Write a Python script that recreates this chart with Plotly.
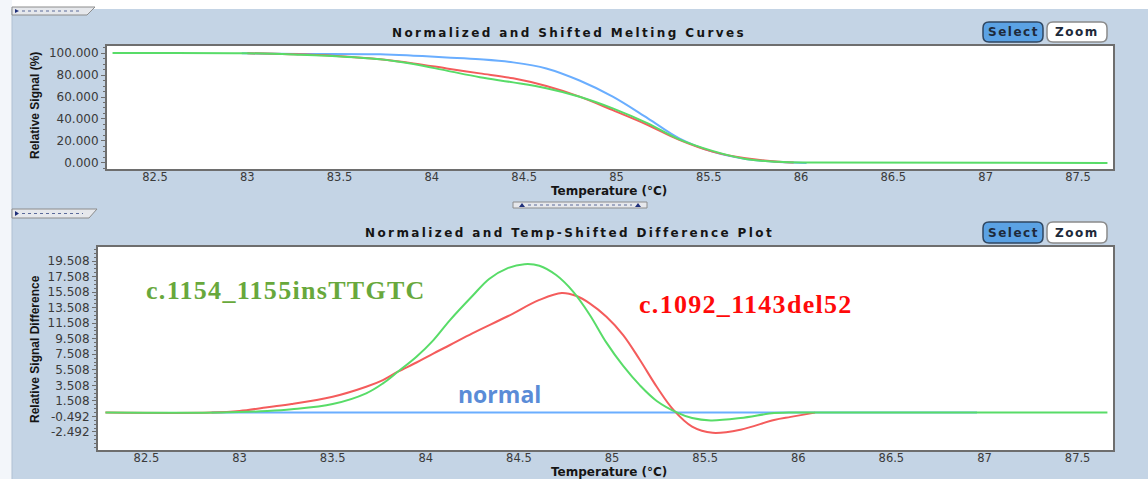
import plotly.graph_objects as go

# ---------------- data ----------------
# Top panel: normalized and shifted melting curves (Relative Signal %)
temp_green_melt = [82.27, 83.0, 83.29, 83.46, 83.72, 83.90, 84.08, 84.26, 84.44, 84.62, 84.80, 84.98, 85.17, 85.34, 85.52, 85.70, 85.88, 86.03, 87.66]
green_melt = [100, 99.8, 98.5, 97.4, 94.3, 90.0, 84.0, 78.0, 73.3, 68.0, 60.3, 49.7, 36.0, 21.5, 11.0, 3.6, 1.0, 0.3, 0.0]

temp_red_melt = [83.0, 83.23, 83.46, 83.72, 83.90, 84.08, 84.26, 84.44, 84.62, 84.80, 84.98, 85.17, 85.34, 85.52, 85.70, 85.88, 85.96]
red_melt = [99.8, 99.0, 97.6, 94.3, 90.6, 86.0, 81.5, 77.0, 70.0, 60.3, 48.0, 34.5, 21.0, 10.3, 4.2, 1.0, 0.3]

temp_blue_melt = [82.97, 83.29, 83.72, 83.90, 84.08, 84.26, 84.44, 84.62, 84.80, 84.98, 85.17, 85.34, 85.52, 85.70, 85.88, 86.03]
blue_melt = [99.8, 99.2, 98.8, 97.6, 96.0, 94.3, 91.5, 86.0, 75.0, 60.3, 40.6, 22.4, 10.3, 3.6, 0.8, 0.0]

# Bottom panel: normalized and temp-shifted difference plot
temp_green_diff = [82.28, 82.9, 83.15, 83.28, 83.5, 83.68, 83.77, 83.85, 83.95, 84.04, 84.13, 84.25, 84.34, 84.44, 84.53,
                   84.61, 84.70, 84.79, 84.88, 84.97, 85.06, 85.15, 85.24, 85.35, 85.43, 85.53, 85.69, 85.87, 85.95, 87.66]
green_diff = [0, 0, 0.2, 0.42, 1.1, 2.48, 3.76, 5.26, 7.19, 9.3, 11.9, 15.0, 17.2, 18.6, 19.1,
              18.9, 17.7, 15.6, 12.6, 9.0, 6.0, 3.5, 1.5, 0, -0.7, -1.0, -0.7, -0.05, 0, 0]

temp_red_diff = [82.28, 82.85, 83.0, 83.15, 83.28, 83.5, 83.68, 83.77, 83.85, 83.95, 84.04, 84.13, 84.25, 84.44, 84.61,
                 84.73, 84.81, 84.88, 84.97, 85.06, 85.15, 85.24, 85.33, 85.43, 85.54, 85.69, 85.87, 85.96, 86.09]
red_diff = [0, 0, 0.2, 0.7, 1.1, 2.04, 3.33, 4.19, 5.26, 6.45, 7.6, 8.7, 10.2, 12.4, 14.5,
            15.4, 15.0, 14.06, 12.34, 9.98, 6.77, 3.33, 0.35, -1.8, -2.6, -2.2, -0.95, -0.55, 0]

temp_blue_diff = [82.85, 86.96]
blue_diff = [0, 0]

x_tick_vals = [82.5, 83, 83.5, 84, 84.5, 85, 85.5, 86, 86.5, 87, 87.5]
x_tick_text = ["82.5", "83", "83.5", "84", "84.5", "85", "85.5", "86", "86.5", "87", "87.5"]
y1_tick_vals = [0, 20, 40, 60, 80, 100]
y1_tick_text = ["0.000", "20.000", "40.000", "60.000", "80.000", "100.000"]
y2_tick_vals = [-2.492, -0.492, 1.508, 3.508, 5.508, 7.508, 9.508, 11.508, 13.508, 15.508, 17.508, 19.508]
y2_tick_text = ["-2.492", "-0.492", "1.508", "3.508", "5.508", "7.508", "9.508", "11.508", "13.508", "15.508", "17.508", "19.508"]

# ---------------- styling ----------------
W, H = 1148, 479
BG = "#C4D4E5"
GREEN = "#58DC68"
RED = "#F45C5C"
BLUE = "#6AAEFF"
FRAME = "#6E6E6E"
TICKFONT = dict(family="DejaVu Sans", size=12, color="#3A3A3A")
XTICKFONT = dict(family="DejaVu Sans", size=11.5, color="#3A3A3A")


def fx(x):
    return x / W


def fy(y):
    return 1 - y / H


fig = go.Figure()

line_w = 2
spl = dict(shape="spline", smoothing=1.0)
# top panel
fig.add_trace(go.Scatter(x=temp_blue_melt, y=blue_melt, mode="lines", line=dict(color=BLUE, width=line_w, **spl), xaxis="x", yaxis="y"))
fig.add_trace(go.Scatter(x=temp_red_melt, y=red_melt, mode="lines", line=dict(color=RED, width=line_w, **spl), xaxis="x", yaxis="y"))
fig.add_trace(go.Scatter(x=temp_green_melt, y=green_melt, mode="lines", line=dict(color=GREEN, width=line_w, **spl), xaxis="x", yaxis="y"))
# bottom panel
fig.add_trace(go.Scatter(x=temp_blue_diff, y=blue_diff, mode="lines", line=dict(color=BLUE, width=line_w), xaxis="x2", yaxis="y2"))
fig.add_trace(go.Scatter(x=temp_red_diff, y=red_diff, mode="lines", line=dict(color=RED, width=line_w, **spl), xaxis="x2", yaxis="y2"))
fig.add_trace(go.Scatter(x=temp_green_diff, y=green_diff, mode="lines", line=dict(color=GREEN, width=line_w, **spl), xaxis="x2", yaxis="y2"))

xaxis_common = dict(range=[82.24, 87.69], tickmode="array", tickvals=x_tick_vals, ticktext=x_tick_text,
                    showgrid=False, zeroline=False, showline=True, mirror=True, linecolor=FRAME, linewidth=2,
                    ticks="", ticklabelstandoff=-4, tickfont=XTICKFONT, fixedrange=True)
yaxis_common = dict(showgrid=False, zeroline=False, showline=True, mirror=True, linecolor=FRAME, linewidth=2,
                    ticks="outside", ticklen=4, tickcolor=FRAME, tickfont=TICKFONT, tickmode="array", fixedrange=True)

fig.update_layout(
    width=W, height=H, margin=dict(l=0, r=0, t=0, b=0),
    paper_bgcolor=BG, plot_bgcolor="white", showlegend=False,
    xaxis=dict(domain=[fx(107), fx(1113)], anchor="y", **xaxis_common),
    yaxis=dict(domain=[fy(169), fy(46)], anchor="x", range=[-5.5, 106.4], tickvals=y1_tick_vals, ticktext=y1_tick_text,
               minor=dict(dtick=5, tick0=0, ticks="outside", ticklen=2, tickcolor=FRAME), **yaxis_common),
    xaxis2=dict(domain=[fx(98), fx(1113)], anchor="y2", **xaxis_common),
    yaxis2=dict(domain=[fy(450), fy(247)], anchor="x2", range=[-4.81, 21.31], tickvals=y2_tick_vals, ticktext=y2_tick_text,
                minor=dict(dtick=0.5, tick0=-2.492, ticks="outside", ticklen=2, tickcolor=FRAME), **yaxis_common),
)

shapes = []
# white strips at top and left edge
shapes.append(dict(type="rect", xref="paper", yref="paper", x0=0, x1=1, y0=fy(9), y1=1, fillcolor="white", line=dict(width=0), layer="below"))
shapes.append(dict(type="rect", xref="paper", yref="paper", x0=0, x1=fx(12), y0=0, y1=1, fillcolor="#F3F6FA", line=dict(width=0), layer="below"))
shapes.append(dict(type="line", xref="paper", yref="paper", x0=fx(12), x1=fx(12), y0=0, y1=fy(9), line=dict(color="#AFC0D3", width=1), layer="below"))


def tab(x0, y0, x1, y1):
    path = "M {} {} L {} {} L {} {} L {} {} Z".format(fx(x0), fy(y0), fx(x1), fy(y0), fx(x1 - 8), fy(y1), fx(x0), fy(y1))
    shapes.append(dict(type="path", xref="paper", yref="paper", path=path, fillcolor="#E6E8EC", line=dict(color="#8C8C8C", width=1)))
    tri = "M {} {} L {} {} L {} {} Z".format(fx(x0 + 3), fy(y0 + 2), fx(x0 + 7), fy((y0 + y1) / 2), fx(x0 + 3), fy(y1 - 2))
    shapes.append(dict(type="path", xref="paper", yref="paper", path=tri, fillcolor="#20307A", line=dict(width=0)))
    shapes.append(dict(type="line", xref="paper", yref="paper", x0=fx(x0 + 10), x1=fx(x1 - 14), y0=fy((y0 + y1) / 2), y1=fy((y0 + y1) / 2),
                       line=dict(color="#5A6A9A", width=1, dash="dot")))


tab(12, 7, 95, 15)
tab(12, 209, 97, 218)

# middle splitter widget
shapes.append(dict(type="rect", xref="paper", yref="paper", x0=fx(513), x1=fx(647), y0=fy(208), y1=fy(202), fillcolor="#E6E8EC", line=dict(color="#8C8C8C", width=1)))
shapes.append(dict(type="line", xref="paper", yref="paper", x0=fx(528), x1=fx(632), y0=fy(205), y1=fy(205), line=dict(color="#5A6A9A", width=1, dash="dot")))
for xx in (522, 638):
    shapes.append(dict(type="path", xref="paper", yref="paper",
                       path="M {} {} L {} {} L {} {} Z".format(fx(xx - 3), fy(207), fx(xx + 3), fy(207), fx(xx), fy(203)),
                       fillcolor="#20307A", line=dict(width=0)))


def rounded(x0, y0, x1, y1, r):
    return ("M {a} {b} L {c} {b} Q {d} {b} {d} {e} L {d} {f} Q {d} {g} {c} {g} L {a} {g} Q {h} {g} {h} {f} L {h} {e} Q {h} {b} {a} {b} Z"
            .format(a=fx(x0 + r), b=fy(y0), c=fx(x1 - r), d=fx(x1), e=fy(y0 + r), f=fy(y1 - r), g=fy(y1), h=fx(x0)))


annotations = []
for (ytop, ybot) in ((22, 42), (222, 243)):
    shapes.append(dict(type="path", xref="paper", yref="paper", path=rounded(983, ytop, 1043, ybot, 6),
                       fillcolor="#5BA2E4", line=dict(color="#2F4660", width=1.5)))
    shapes.append(dict(type="path", xref="paper", yref="paper", path=rounded(1047, ytop, 1107, ybot, 6),
                       fillcolor="white", line=dict(color="#8A8A8A", width=1.5)))
    ym = (ytop + ybot) / 2
    annotations.append(dict(xref="paper", yref="paper", x=fx(1013), y=fy(ym), text='<span style="letter-spacing:1.5px">Select</span>',
                            showarrow=False, font=dict(family="DejaVu Sans", size=12, color="#1E2A3A", weight="bold"),
                            xanchor="center", yanchor="middle"))
    annotations.append(dict(xref="paper", yref="paper", x=fx(1077), y=fy(ym), text='<span style="letter-spacing:1.5px">Zoom</span>',
                            showarrow=False, font=dict(family="DejaVu Sans", size=12, color="#1E2A3A", weight="bold"),
                            xanchor="center", yanchor="middle"))

TITLE_FONT = dict(family="DejaVu Sans", size=12, color="#151515", weight="bold")
annotations.append(dict(xref="paper", yref="paper", x=fx(569), y=fy(33), showarrow=False, xanchor="center", yanchor="middle",
                        text='<span style="letter-spacing:2.4px">Normalized and Shifted Melting Curves</span>', font=TITLE_FONT))
annotations.append(dict(xref="paper", yref="paper", x=fx(569), y=fy(233), showarrow=False, xanchor="center", yanchor="middle",
                        text='<span style="letter-spacing:2.4px">Normalized and Temp-Shifted Difference Plot</span>', font=TITLE_FONT))

XT_FONT = dict(family="DejaVu Sans", size=12, color="#151515", weight="bold")
annotations.append(dict(xref="paper", yref="paper", x=fx(609), y=fy(191), showarrow=False, xanchor="center", yanchor="middle",
                        text="Temperature (°C)", font=XT_FONT))
annotations.append(dict(xref="paper", yref="paper", x=fx(609), y=fy(471.5), showarrow=False, xanchor="center", yanchor="middle",
                        text="Temperature (°C)", font=XT_FONT))

YT_FONT = dict(family="Liberation Sans Narrow, Liberation Sans, Arial", size=12, color="#151515", weight="bold")
annotations.append(dict(xref="paper", yref="paper", x=fx(35), y=fy(106), showarrow=False, xanchor="center", yanchor="middle",
                        textangle=-90, text="Relative Signal (%)", font=YT_FONT))
annotations.append(dict(xref="paper", yref="paper", x=fx(35), y=fy(349), showarrow=False, xanchor="center", yanchor="middle",
                        textangle=-90, text="Relative Signal Difference", font=YT_FONT))

# series labels
annotations.append(dict(xref="paper", yref="paper", x=fx(286), y=fy(290), showarrow=False, xanchor="center", yanchor="middle",
                        text='<span style="letter-spacing:1.3px">c.1154_1155insTTGTC</span>',
                        font=dict(family="Liberation Serif, Times New Roman", size=26, color="#68A83C", weight="bold")))
annotations.append(dict(xref="paper", yref="paper", x=fx(746), y=fy(304), showarrow=False, xanchor="center", yanchor="middle",
                        text='<span style="letter-spacing:1.3px">c.1092_1143del52</span>',
                        font=dict(family="Liberation Serif, Times New Roman", size=26, color="#FF0A0A", weight="bold")))
annotations.append(dict(xref="paper", yref="paper", x=fx(499), y=fy(394), showarrow=False, xanchor="center", yanchor="middle",
                        text="normal", font=dict(family="Open Sans", size=23, color="#5A8CD7", weight="bold")))

fig.update_layout(shapes=shapes, annotations=annotations)

fig.write_html("out.html", config=dict(displayModeBar=False, staticPlot=True))
